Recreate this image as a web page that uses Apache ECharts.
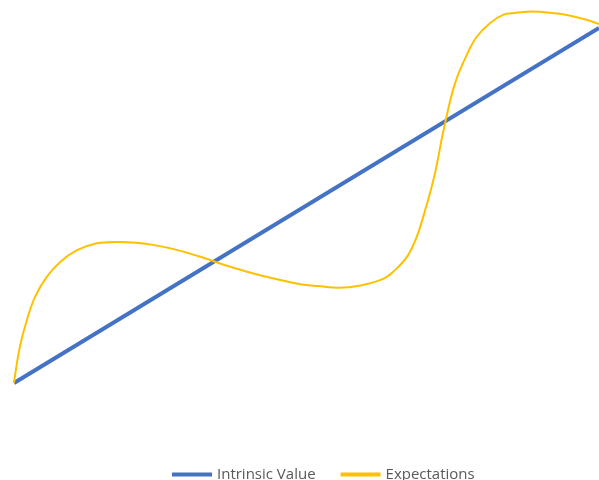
<!DOCTYPE html>
<html>
<head>
<meta charset="utf-8">
<script src="https://cdn.jsdelivr.net/npm/echarts@6/dist/echarts.min.js"></script>
<style>html,body{margin:0;padding:0;background:#fff}#c{width:599px;height:480px}</style>
</head>
<body>
<div id="c"></div>
<script>
var seriesNames = ['Intrinsic Value', 'Expectations'];
var intrinsicX = [0, 100];
var intrinsicY = [0, 92.7];
var expectX = [0, 1.0, 2.2, 3.6, 5.6, 7.9, 10.7, 14, 17.5, 21, 24, 28, 32, 36, 40, 45.5, 48.9, 52, 55.5, 59, 63.1, 65.0, 67.2, 68.8, 70.3, 71.9, 73.5, 75.4, 77.5, 79.1, 81.4, 83.6, 85.5, 88.7, 92, 94.5, 98, 100];
var expectY = [0, 9.4, 16.4, 22.5, 27.7, 31.6, 34.6, 36.4, 36.8, 36.6, 36.0, 34.7, 32.9, 30.8, 29.0, 26.9, 25.8, 25.3, 24.9, 25.4, 27.2, 29.3, 33.0, 38.0, 45.2, 54.3, 66.5, 78.3, 86.0, 90.4, 94.0, 96.1, 96.6, 97.0, 96.6, 96.1, 94.8, 93.7];

function pairs(xs, ys) { return xs.map(function (x, i) { return [x, ys[i]]; }); }

var chart = echarts.init(document.getElementById('c'));
chart.setOption({
  animation: false,
  grid: { left: 14, right: 0, top: 0, bottom: 97 },
  xAxis: { type: 'value', min: 0, max: 100, show: false },
  yAxis: { type: 'value', min: 0, max: 100, show: false },
  legend: {
    left: 172,
    top: 467,
    padding: 0,
    itemWidth: 40,
    itemHeight: 4,
    itemGap: 25,
    icon: 'rect',
    textStyle: { fontFamily: 'Open Sans', fontSize: 15, color: '#595959' },
    data: seriesNames
  },
  series: [
    {
      name: seriesNames[0], type: 'line', data: pairs(intrinsicX, intrinsicY),
      showSymbol: false, lineStyle: { color: '#4472C4', width: 4 }, itemStyle: { color: '#4472C4' }
    },
    {
      name: seriesNames[1], type: 'line', data: pairs(expectX, expectY), smooth: 0.4,
      showSymbol: false, lineStyle: { color: '#FFC000', width: 2 }, itemStyle: { color: '#FFC000' }
    }
  ]
});
</script>
</body>
</html>
